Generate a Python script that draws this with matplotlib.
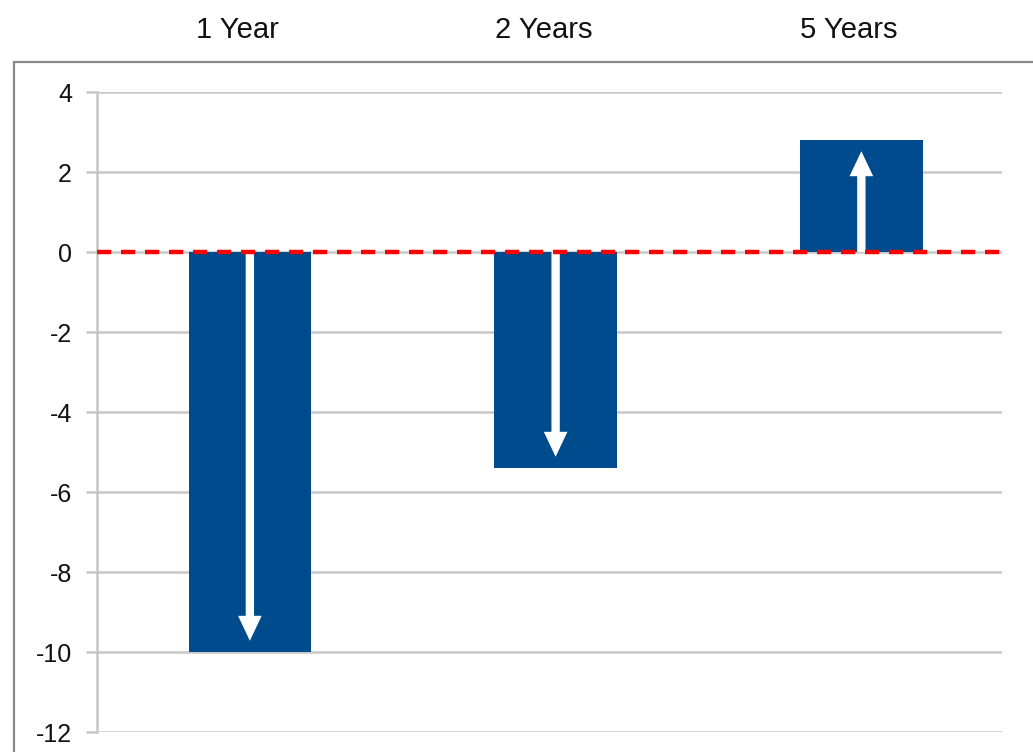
import matplotlib.pyplot as plt
import matplotlib.transforms as mtransforms
from matplotlib.patches import Rectangle

# Horizon labels and change values shown on the bars
horizons = ["1 Year", "2 Years", "5 Years"]
changes = [-10.0, -5.4, 2.8]
y_ticks = [4, 2, 0, -2, -4, -6, -8, -10, -12]

BAR_COLOR = "#004b8d"
GRID_COLOR = "#c8c8c8"

plt.rcParams["font.family"] = ["Liberation Sans", "DejaVu Sans"]

fig = plt.figure(figsize=(10.33, 7.52), dpi=100)
ax = fig.add_axes([97 / 1033, 20 / 752, 905 / 1033, 640 / 752])

# outer frame around the chart body
fig.patches.append(Rectangle((14 / 1033, -0.2), 1.2, (752 - 62) / 752 + 0.2,
                             transform=fig.transFigure, fill=False,
                             edgecolor="#8a8a8a", linewidth=1.6, zorder=0))

x = list(range(len(horizons)))
ax.bar(x, changes, width=0.4, color=BAR_COLOR, zorder=3)

# white arrows showing the direction of each move
for xi, v in zip(x, changes):
    sign = 1 if v > 0 else -1
    tip = v - sign * 0.28
    ax.annotate("", xy=(xi, tip), xytext=(xi, 0),
                arrowprops=dict(arrowstyle="simple,head_length=0.9,head_width=0.85,tail_width=0.3",
                                mutation_scale=20, facecolor="white", edgecolor="none",
                                lw=0, shrinkA=0, shrinkB=0),
                zorder=4)

ax.axhline(0, color="#ff0000", linestyle=(0, (3.2, 2.2)), linewidth=3.2, zorder=5)

ax.set_xlim(-0.5, 2.46)
ax.set_ylim(-12, 4)
ax.set_yticks(y_ticks)
ax.set_yticklabels([str(t) for t in y_ticks])
ax.set_xticks([])
ax.yaxis.grid(True, color=GRID_COLOR, linewidth=1.8, zorder=0)
ax.set_axisbelow(True)

for side in ["top", "right", "bottom"]:
    ax.spines[side].set_visible(False)
ax.spines["left"].set_color(GRID_COLOR)
ax.spines["left"].set_linewidth(1.8)
ax.tick_params(axis="y", length=8, width=1.8, color=GRID_COLOR,
               labelsize=18, pad=10, labelcolor="#111111")

# horizon labels above the frame
trans = mtransforms.blended_transform_factory(ax.transData, ax.transAxes)
for xi, name in zip(x, horizons):
    ax.text(xi - 0.04, 1.097, name, transform=trans, ha="center", va="center",
            fontsize=21, color="#111111", clip_on=False)

fig.savefig("out.png", dpi=100)
